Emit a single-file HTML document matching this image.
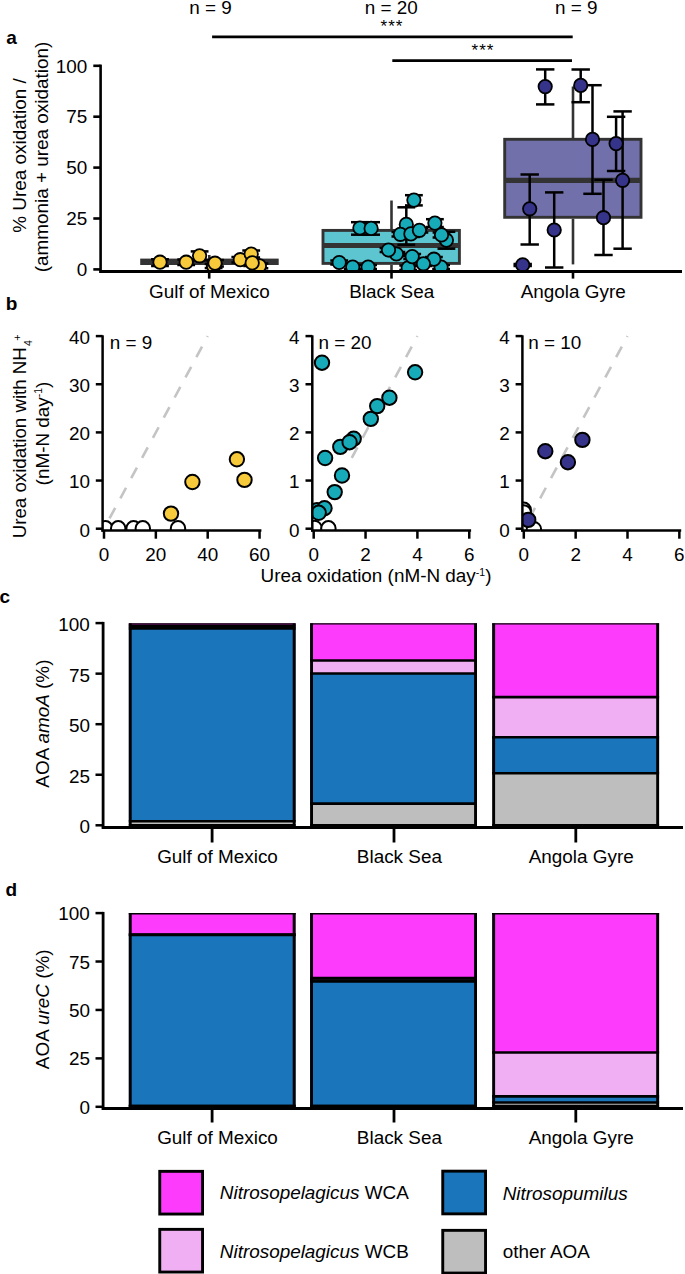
<!DOCTYPE html>
<html><head><meta charset="utf-8"><style>
html,body{margin:0;padding:0;background:#fff;}
svg{display:block;}
text{font-family:"Liberation Sans",sans-serif;fill:#000;}
</style></head><body>
<svg width="685" height="1274" viewBox="0 0 685 1274">
<text x="6.20" y="44.00" text-anchor="start" font-size="19" font-weight="bold">a</text>
<text x="210.50" y="13.90" text-anchor="middle" font-size="18.9" >n = 9</text>
<text x="391.30" y="13.80" text-anchor="middle" font-size="18.9" >n = 20</text>
<text x="576.20" y="13.90" text-anchor="middle" font-size="18.9" >n = 9</text>
<text x="391.90" y="31.70" text-anchor="middle" font-size="17" letter-spacing="0.9">***</text>
<line x1="212.10" y1="36.90" x2="572.70" y2="36.90" stroke="#000" stroke-width="2.8" />
<text x="482.90" y="55.60" text-anchor="middle" font-size="17" letter-spacing="0.9">***</text>
<line x1="392.30" y1="60.60" x2="572.00" y2="60.60" stroke="#000" stroke-width="2.8" />
<line x1="100.60" y1="64.60" x2="100.60" y2="272.90" stroke="#000" stroke-width="2.6" />
<line x1="93.30" y1="269.40" x2="100.60" y2="269.40" stroke="#000" stroke-width="2.6" />
<text x="87.20" y="276.10" text-anchor="end" font-size="18.9" >0</text>
<line x1="93.30" y1="218.50" x2="100.60" y2="218.50" stroke="#000" stroke-width="2.6" />
<text x="87.20" y="225.20" text-anchor="end" font-size="18.9" >25</text>
<line x1="93.30" y1="167.60" x2="100.60" y2="167.60" stroke="#000" stroke-width="2.6" />
<text x="87.20" y="174.30" text-anchor="end" font-size="18.9" >50</text>
<line x1="93.30" y1="116.70" x2="100.60" y2="116.70" stroke="#000" stroke-width="2.6" />
<text x="87.20" y="123.40" text-anchor="end" font-size="18.9" >75</text>
<line x1="93.30" y1="65.80" x2="100.60" y2="65.80" stroke="#000" stroke-width="2.6" />
<text x="87.20" y="72.50" text-anchor="end" font-size="18.9" >100</text>
<text transform="translate(26.3,155.5) rotate(-90)" text-anchor="middle" font-size="18.9">% Urea oxidation /</text>
<text transform="translate(48.2,157) rotate(-90)" text-anchor="middle" font-size="18.9">(ammonia + urea oxidation)</text>
<rect x="140.20" y="258.60" width="138.50" height="6.40" fill="#333333"/>
<line x1="209.30" y1="255.00" x2="209.30" y2="259.00" stroke="#333333" stroke-width="2.6" />
<rect x="323.00" y="230.40" width="136.40" height="33.00" fill="#5cc5cf" stroke="#333333" stroke-width="2.9"/>
<line x1="391.50" y1="200.50" x2="391.50" y2="229.00" stroke="#333333" stroke-width="2.6" />
<line x1="391.50" y1="264.80" x2="391.50" y2="271.00" stroke="#333333" stroke-width="2.6" />
<line x1="323.00" y1="245.60" x2="459.40" y2="245.60" stroke="#333333" stroke-width="5" />
<line x1="573.00" y1="86.50" x2="573.00" y2="138.00" stroke="#333333" stroke-width="2.6" />
<line x1="573.00" y1="218.70" x2="573.00" y2="264.40" stroke="#333333" stroke-width="2.6" />
<rect x="504.70" y="139.30" width="136.30" height="78.00" fill="#7270ab" stroke="#333333" stroke-width="2.9"/>
<line x1="504.70" y1="180.40" x2="641.00" y2="180.40" stroke="#333333" stroke-width="5.1" />
<clipPath id="ca"><rect x="101" y="0" width="584" height="271.5"/></clipPath>
<g clip-path="url(#ca)">
<line x1="160.00" y1="259.30" x2="160.00" y2="265.90" stroke="#000" stroke-width="2.5" />
<line x1="151.10" y1="259.30" x2="168.90" y2="259.30" stroke="#000" stroke-width="2.5" />
<line x1="151.10" y1="265.90" x2="168.90" y2="265.90" stroke="#000" stroke-width="2.5" />
<line x1="186.20" y1="259.50" x2="186.20" y2="265.00" stroke="#000" stroke-width="2.5" />
<line x1="177.30" y1="259.50" x2="195.10" y2="259.50" stroke="#000" stroke-width="2.5" />
<line x1="177.30" y1="265.00" x2="195.10" y2="265.00" stroke="#000" stroke-width="2.5" />
<line x1="199.60" y1="251.40" x2="199.60" y2="260.20" stroke="#000" stroke-width="2.5" />
<line x1="190.70" y1="251.40" x2="208.50" y2="251.40" stroke="#000" stroke-width="2.5" />
<line x1="190.70" y1="260.20" x2="208.50" y2="260.20" stroke="#000" stroke-width="2.5" />
<line x1="213.60" y1="264.00" x2="213.60" y2="268.00" stroke="#000" stroke-width="2.5" />
<line x1="204.70" y1="264.00" x2="222.50" y2="264.00" stroke="#000" stroke-width="2.5" />
<line x1="204.70" y1="268.00" x2="222.50" y2="268.00" stroke="#000" stroke-width="2.5" />
<line x1="215.00" y1="260.00" x2="215.00" y2="266.50" stroke="#000" stroke-width="2.5" />
<line x1="206.10" y1="260.00" x2="223.90" y2="260.00" stroke="#000" stroke-width="2.5" />
<line x1="206.10" y1="266.50" x2="223.90" y2="266.50" stroke="#000" stroke-width="2.5" />
<line x1="240.30" y1="257.00" x2="240.30" y2="262.50" stroke="#000" stroke-width="2.5" />
<line x1="231.40" y1="257.00" x2="249.20" y2="257.00" stroke="#000" stroke-width="2.5" />
<line x1="231.40" y1="262.50" x2="249.20" y2="262.50" stroke="#000" stroke-width="2.5" />
<line x1="251.20" y1="250.50" x2="251.20" y2="257.50" stroke="#000" stroke-width="2.5" />
<line x1="242.30" y1="250.50" x2="260.10" y2="250.50" stroke="#000" stroke-width="2.5" />
<line x1="242.30" y1="257.50" x2="260.10" y2="257.50" stroke="#000" stroke-width="2.5" />
<line x1="259.40" y1="263.50" x2="259.40" y2="268.30" stroke="#000" stroke-width="2.5" />
<line x1="250.50" y1="263.50" x2="268.30" y2="263.50" stroke="#000" stroke-width="2.5" />
<line x1="250.50" y1="268.30" x2="268.30" y2="268.30" stroke="#000" stroke-width="2.5" />
<line x1="252.20" y1="260.00" x2="252.20" y2="266.00" stroke="#000" stroke-width="2.5" />
<line x1="243.30" y1="260.00" x2="261.10" y2="260.00" stroke="#000" stroke-width="2.5" />
<line x1="243.30" y1="266.00" x2="261.10" y2="266.00" stroke="#000" stroke-width="2.5" />
<circle cx="160.00" cy="262.20" r="6.70" fill="#f6ca3a" stroke="#000" stroke-width="1.8"/>
<circle cx="186.20" cy="262.20" r="6.70" fill="#f6ca3a" stroke="#000" stroke-width="1.8"/>
<circle cx="199.60" cy="255.80" r="6.70" fill="#f6ca3a" stroke="#000" stroke-width="1.8"/>
<circle cx="213.60" cy="266.20" r="6.70" fill="#f6ca3a" stroke="#000" stroke-width="1.8"/>
<circle cx="215.00" cy="263.20" r="6.70" fill="#f6ca3a" stroke="#000" stroke-width="1.8"/>
<circle cx="240.30" cy="259.70" r="6.70" fill="#f6ca3a" stroke="#000" stroke-width="1.8"/>
<circle cx="251.20" cy="254.00" r="6.70" fill="#f6ca3a" stroke="#000" stroke-width="1.8"/>
<circle cx="259.40" cy="265.90" r="6.70" fill="#f6ca3a" stroke="#000" stroke-width="1.8"/>
<circle cx="252.20" cy="262.90" r="6.70" fill="#f6ca3a" stroke="#000" stroke-width="1.8"/>
<line x1="359.90" y1="222.20" x2="359.90" y2="234.70" stroke="#000" stroke-width="2.5" />
<line x1="351.00" y1="222.20" x2="368.80" y2="222.20" stroke="#000" stroke-width="2.5" />
<line x1="351.00" y1="234.70" x2="368.80" y2="234.70" stroke="#000" stroke-width="2.5" />
<line x1="371.10" y1="222.20" x2="371.10" y2="234.70" stroke="#000" stroke-width="2.5" />
<line x1="362.20" y1="222.20" x2="380.00" y2="222.20" stroke="#000" stroke-width="2.5" />
<line x1="362.20" y1="234.70" x2="380.00" y2="234.70" stroke="#000" stroke-width="2.5" />
<line x1="339.20" y1="260.50" x2="339.20" y2="264.50" stroke="#000" stroke-width="2.5" />
<line x1="330.30" y1="260.50" x2="348.10" y2="260.50" stroke="#000" stroke-width="2.5" />
<line x1="330.30" y1="264.50" x2="348.10" y2="264.50" stroke="#000" stroke-width="2.5" />
<line x1="352.70" y1="265.00" x2="352.70" y2="269.00" stroke="#000" stroke-width="2.5" />
<line x1="343.80" y1="265.00" x2="361.60" y2="265.00" stroke="#000" stroke-width="2.5" />
<line x1="343.80" y1="269.00" x2="361.60" y2="269.00" stroke="#000" stroke-width="2.5" />
<line x1="368.10" y1="265.00" x2="368.10" y2="269.00" stroke="#000" stroke-width="2.5" />
<line x1="359.20" y1="265.00" x2="377.00" y2="265.00" stroke="#000" stroke-width="2.5" />
<line x1="359.20" y1="269.00" x2="377.00" y2="269.00" stroke="#000" stroke-width="2.5" />
<line x1="413.90" y1="195.20" x2="413.90" y2="205.40" stroke="#000" stroke-width="2.5" />
<line x1="405.00" y1="195.20" x2="422.80" y2="195.20" stroke="#000" stroke-width="2.5" />
<line x1="405.00" y1="205.40" x2="422.80" y2="205.40" stroke="#000" stroke-width="2.5" />
<line x1="406.30" y1="207.30" x2="406.30" y2="244.80" stroke="#000" stroke-width="2.5" />
<line x1="397.40" y1="207.30" x2="415.20" y2="207.30" stroke="#000" stroke-width="2.5" />
<line x1="397.40" y1="244.80" x2="415.20" y2="244.80" stroke="#000" stroke-width="2.5" />
<line x1="400.40" y1="232.00" x2="400.40" y2="236.50" stroke="#000" stroke-width="2.5" />
<line x1="391.50" y1="232.00" x2="409.30" y2="232.00" stroke="#000" stroke-width="2.5" />
<line x1="391.50" y1="236.50" x2="409.30" y2="236.50" stroke="#000" stroke-width="2.5" />
<line x1="410.90" y1="231.00" x2="410.90" y2="237.00" stroke="#000" stroke-width="2.5" />
<line x1="402.00" y1="231.00" x2="419.80" y2="231.00" stroke="#000" stroke-width="2.5" />
<line x1="402.00" y1="237.00" x2="419.80" y2="237.00" stroke="#000" stroke-width="2.5" />
<line x1="419.40" y1="228.00" x2="419.40" y2="232.50" stroke="#000" stroke-width="2.5" />
<line x1="410.50" y1="228.00" x2="428.30" y2="228.00" stroke="#000" stroke-width="2.5" />
<line x1="410.50" y1="232.50" x2="428.30" y2="232.50" stroke="#000" stroke-width="2.5" />
<line x1="434.90" y1="219.20" x2="434.90" y2="227.00" stroke="#000" stroke-width="2.5" />
<line x1="426.00" y1="219.20" x2="443.80" y2="219.20" stroke="#000" stroke-width="2.5" />
<line x1="426.00" y1="227.00" x2="443.80" y2="227.00" stroke="#000" stroke-width="2.5" />
<line x1="446.40" y1="231.80" x2="446.40" y2="248.70" stroke="#000" stroke-width="2.5" />
<line x1="437.50" y1="231.80" x2="455.30" y2="231.80" stroke="#000" stroke-width="2.5" />
<line x1="437.50" y1="248.70" x2="455.30" y2="248.70" stroke="#000" stroke-width="2.5" />
<line x1="441.50" y1="232.50" x2="441.50" y2="237.50" stroke="#000" stroke-width="2.5" />
<line x1="432.60" y1="232.50" x2="450.40" y2="232.50" stroke="#000" stroke-width="2.5" />
<line x1="432.60" y1="237.50" x2="450.40" y2="237.50" stroke="#000" stroke-width="2.5" />
<line x1="396.40" y1="252.00" x2="396.40" y2="256.00" stroke="#000" stroke-width="2.5" />
<line x1="387.50" y1="252.00" x2="405.30" y2="252.00" stroke="#000" stroke-width="2.5" />
<line x1="387.50" y1="256.00" x2="405.30" y2="256.00" stroke="#000" stroke-width="2.5" />
<line x1="388.50" y1="248.00" x2="388.50" y2="252.00" stroke="#000" stroke-width="2.5" />
<line x1="379.60" y1="248.00" x2="397.40" y2="248.00" stroke="#000" stroke-width="2.5" />
<line x1="379.60" y1="252.00" x2="397.40" y2="252.00" stroke="#000" stroke-width="2.5" />
<line x1="408.20" y1="265.50" x2="408.20" y2="270.00" stroke="#000" stroke-width="2.5" />
<line x1="399.30" y1="265.50" x2="417.10" y2="265.50" stroke="#000" stroke-width="2.5" />
<line x1="399.30" y1="270.00" x2="417.10" y2="270.00" stroke="#000" stroke-width="2.5" />
<line x1="412.20" y1="254.00" x2="412.20" y2="259.00" stroke="#000" stroke-width="2.5" />
<line x1="403.30" y1="254.00" x2="421.10" y2="254.00" stroke="#000" stroke-width="2.5" />
<line x1="403.30" y1="259.00" x2="421.10" y2="259.00" stroke="#000" stroke-width="2.5" />
<line x1="441.10" y1="265.00" x2="441.10" y2="269.00" stroke="#000" stroke-width="2.5" />
<line x1="432.20" y1="265.00" x2="450.00" y2="265.00" stroke="#000" stroke-width="2.5" />
<line x1="432.20" y1="269.00" x2="450.00" y2="269.00" stroke="#000" stroke-width="2.5" />
<line x1="433.90" y1="257.00" x2="433.90" y2="261.50" stroke="#000" stroke-width="2.5" />
<line x1="425.00" y1="257.00" x2="442.80" y2="257.00" stroke="#000" stroke-width="2.5" />
<line x1="425.00" y1="261.50" x2="442.80" y2="261.50" stroke="#000" stroke-width="2.5" />
<line x1="423.40" y1="261.50" x2="423.40" y2="266.00" stroke="#000" stroke-width="2.5" />
<line x1="414.50" y1="261.50" x2="432.30" y2="261.50" stroke="#000" stroke-width="2.5" />
<line x1="414.50" y1="266.00" x2="432.30" y2="266.00" stroke="#000" stroke-width="2.5" />
<circle cx="359.90" cy="228.00" r="6.70" fill="#17abba" stroke="#000" stroke-width="1.8"/>
<circle cx="371.10" cy="228.40" r="6.70" fill="#17abba" stroke="#000" stroke-width="1.8"/>
<circle cx="339.20" cy="262.50" r="6.70" fill="#17abba" stroke="#000" stroke-width="1.8"/>
<circle cx="352.70" cy="267.10" r="6.70" fill="#17abba" stroke="#000" stroke-width="1.8"/>
<circle cx="368.10" cy="267.10" r="6.70" fill="#17abba" stroke="#000" stroke-width="1.8"/>
<circle cx="413.90" cy="200.10" r="6.70" fill="#17abba" stroke="#000" stroke-width="1.8"/>
<circle cx="406.30" cy="224.40" r="6.70" fill="#17abba" stroke="#000" stroke-width="1.8"/>
<circle cx="400.40" cy="234.30" r="6.70" fill="#17abba" stroke="#000" stroke-width="1.8"/>
<circle cx="410.90" cy="233.90" r="6.70" fill="#17abba" stroke="#000" stroke-width="1.8"/>
<circle cx="419.40" cy="230.30" r="6.70" fill="#17abba" stroke="#000" stroke-width="1.8"/>
<circle cx="434.90" cy="223.10" r="6.70" fill="#17abba" stroke="#000" stroke-width="1.8"/>
<circle cx="446.40" cy="240.20" r="6.70" fill="#17abba" stroke="#000" stroke-width="1.8"/>
<circle cx="441.50" cy="234.90" r="6.70" fill="#17abba" stroke="#000" stroke-width="1.8"/>
<circle cx="396.40" cy="254.00" r="6.70" fill="#17abba" stroke="#000" stroke-width="1.8"/>
<circle cx="388.50" cy="250.00" r="6.70" fill="#17abba" stroke="#000" stroke-width="1.8"/>
<circle cx="408.20" cy="267.80" r="6.70" fill="#17abba" stroke="#000" stroke-width="1.8"/>
<circle cx="412.20" cy="256.60" r="6.70" fill="#17abba" stroke="#000" stroke-width="1.8"/>
<circle cx="441.10" cy="267.10" r="6.70" fill="#17abba" stroke="#000" stroke-width="1.8"/>
<circle cx="433.90" cy="259.20" r="6.70" fill="#17abba" stroke="#000" stroke-width="1.8"/>
<circle cx="423.40" cy="263.80" r="6.70" fill="#17abba" stroke="#000" stroke-width="1.8"/>
<line x1="545.20" y1="69.40" x2="545.20" y2="104.40" stroke="#000" stroke-width="2.5" />
<line x1="536.00" y1="69.40" x2="554.40" y2="69.40" stroke="#000" stroke-width="2.5" />
<line x1="536.00" y1="104.40" x2="554.40" y2="104.40" stroke="#000" stroke-width="2.5" />
<line x1="580.70" y1="69.50" x2="580.70" y2="102.20" stroke="#000" stroke-width="2.5" />
<line x1="571.50" y1="69.50" x2="589.90" y2="69.50" stroke="#000" stroke-width="2.5" />
<line x1="571.50" y1="102.20" x2="589.90" y2="102.20" stroke="#000" stroke-width="2.5" />
<line x1="592.50" y1="85.20" x2="592.50" y2="193.80" stroke="#000" stroke-width="2.5" />
<line x1="583.30" y1="85.20" x2="601.70" y2="85.20" stroke="#000" stroke-width="2.5" />
<line x1="583.30" y1="193.80" x2="601.70" y2="193.80" stroke="#000" stroke-width="2.5" />
<line x1="616.10" y1="116.80" x2="616.10" y2="171.00" stroke="#000" stroke-width="2.5" />
<line x1="606.90" y1="116.80" x2="625.30" y2="116.80" stroke="#000" stroke-width="2.5" />
<line x1="606.90" y1="171.00" x2="625.30" y2="171.00" stroke="#000" stroke-width="2.5" />
<line x1="622.60" y1="111.40" x2="622.60" y2="248.70" stroke="#000" stroke-width="2.5" />
<line x1="613.40" y1="111.40" x2="631.80" y2="111.40" stroke="#000" stroke-width="2.5" />
<line x1="613.40" y1="248.70" x2="631.80" y2="248.70" stroke="#000" stroke-width="2.5" />
<line x1="603.50" y1="179.80" x2="603.50" y2="255.00" stroke="#000" stroke-width="2.5" />
<line x1="594.30" y1="179.80" x2="612.70" y2="179.80" stroke="#000" stroke-width="2.5" />
<line x1="594.30" y1="255.00" x2="612.70" y2="255.00" stroke="#000" stroke-width="2.5" />
<line x1="529.70" y1="174.50" x2="529.70" y2="244.50" stroke="#000" stroke-width="2.5" />
<line x1="520.50" y1="174.50" x2="538.90" y2="174.50" stroke="#000" stroke-width="2.5" />
<line x1="520.50" y1="244.50" x2="538.90" y2="244.50" stroke="#000" stroke-width="2.5" />
<line x1="554.20" y1="192.40" x2="554.20" y2="267.40" stroke="#000" stroke-width="2.5" />
<line x1="545.00" y1="192.40" x2="563.40" y2="192.40" stroke="#000" stroke-width="2.5" />
<line x1="545.00" y1="267.40" x2="563.40" y2="267.40" stroke="#000" stroke-width="2.5" />
<line x1="522.70" y1="264.00" x2="522.70" y2="266.00" stroke="#000" stroke-width="2.5" />
<line x1="513.50" y1="264.00" x2="531.90" y2="264.00" stroke="#000" stroke-width="2.5" />
<line x1="513.50" y1="266.00" x2="531.90" y2="266.00" stroke="#000" stroke-width="2.5" />
<circle cx="545.20" cy="86.60" r="6.70" fill="#35338a" stroke="#000" stroke-width="1.8"/>
<circle cx="580.70" cy="85.40" r="6.70" fill="#35338a" stroke="#000" stroke-width="1.8"/>
<circle cx="592.50" cy="139.40" r="6.70" fill="#35338a" stroke="#000" stroke-width="1.8"/>
<circle cx="616.10" cy="143.60" r="6.70" fill="#35338a" stroke="#000" stroke-width="1.8"/>
<circle cx="622.60" cy="180.30" r="6.70" fill="#35338a" stroke="#000" stroke-width="1.8"/>
<circle cx="603.50" cy="217.70" r="6.70" fill="#35338a" stroke="#000" stroke-width="1.8"/>
<circle cx="529.70" cy="208.80" r="6.70" fill="#35338a" stroke="#000" stroke-width="1.8"/>
<circle cx="554.20" cy="230.00" r="6.70" fill="#35338a" stroke="#000" stroke-width="1.8"/>
<circle cx="522.70" cy="264.90" r="6.70" fill="#35338a" stroke="#000" stroke-width="1.8"/>
</g>
<line x1="99.30" y1="271.50" x2="682.00" y2="271.50" stroke="#000" stroke-width="2.8" />
<line x1="209.20" y1="271.50" x2="209.20" y2="278.60" stroke="#000" stroke-width="2.6" />
<text x="209.40" y="298.20" text-anchor="middle" font-size="18.9" >Gulf of Mexico</text>
<line x1="391.50" y1="271.50" x2="391.50" y2="278.60" stroke="#000" stroke-width="2.6" />
<text x="391.70" y="298.20" text-anchor="middle" font-size="18.9" >Black Sea</text>
<line x1="573.00" y1="271.50" x2="573.00" y2="278.60" stroke="#000" stroke-width="2.6" />
<text x="573.20" y="298.20" text-anchor="middle" font-size="18.9" >Angola Gyre</text>
<text x="5.80" y="309.60" text-anchor="start" font-size="19" font-weight="bold">b</text>
<text transform="translate(25.8,538.3) rotate(-90)" text-anchor="start" font-size="18.7">Urea oxidation with NH<tspan font-size="10.5" dy="6" dx="1.2">4</tspan><tspan font-size="11" dy="-11.2" dx="-0.6">+</tspan></text>
<text transform="translate(48.5,433.5) rotate(-90)" text-anchor="middle" font-size="18.9">(nM-N day<tspan font-size="10.5" dy="-6.1">-1</tspan><tspan dy="6.1">)</tspan></text>
<text x="376.00" y="581.60" text-anchor="middle" font-size="18.9" >Urea oxidation (nM-N day<tspan font-size="10.5" dy="-6.1">-1</tspan><tspan dy="6.1">)</tspan></text>
<line x1="207.70" y1="336.10" x2="104.00" y2="528.70" stroke="#c4c4c4" stroke-width="2.6" stroke-dasharray="12 10.9" stroke-dashoffset="10.97"/>
<clipPath id="cb0"><rect x="102.60" y="300" width="170" height="230.40"/></clipPath>
<g clip-path="url(#cb0)">
<circle cx="105.40" cy="528.30" r="7.20" fill="#fff" stroke="#000" stroke-width="2.0"/>
<circle cx="118.20" cy="528.30" r="7.20" fill="#fff" stroke="#000" stroke-width="2.0"/>
<circle cx="133.60" cy="528.30" r="7.20" fill="#fff" stroke="#000" stroke-width="2.0"/>
<circle cx="142.80" cy="528.30" r="7.20" fill="#fff" stroke="#000" stroke-width="2.0"/>
<circle cx="178.00" cy="528.30" r="7.20" fill="#fff" stroke="#000" stroke-width="2.0"/>
<circle cx="171.00" cy="513.60" r="7.20" fill="#f6ca3a" stroke="#000" stroke-width="2.0"/>
<circle cx="192.40" cy="482.00" r="7.20" fill="#f6ca3a" stroke="#000" stroke-width="2.0"/>
<circle cx="236.90" cy="459.30" r="7.20" fill="#f6ca3a" stroke="#000" stroke-width="2.0"/>
<circle cx="244.50" cy="479.90" r="7.20" fill="#f6ca3a" stroke="#000" stroke-width="2.0"/>
</g>
<line x1="102.60" y1="335.30" x2="102.60" y2="531.70" stroke="#000" stroke-width="2.5" />
<line x1="101.40" y1="530.40" x2="261.40" y2="530.40" stroke="#000" stroke-width="2.5" />
<line x1="95.80" y1="528.70" x2="102.60" y2="528.70" stroke="#000" stroke-width="2.5" />
<text x="89.90" y="536.60" text-anchor="end" font-size="18.9" >0</text>
<line x1="95.80" y1="480.55" x2="102.60" y2="480.55" stroke="#000" stroke-width="2.5" />
<text x="89.90" y="488.45" text-anchor="end" font-size="18.9" >10</text>
<line x1="95.80" y1="432.40" x2="102.60" y2="432.40" stroke="#000" stroke-width="2.5" />
<text x="89.90" y="440.30" text-anchor="end" font-size="18.9" >20</text>
<line x1="95.80" y1="384.25" x2="102.60" y2="384.25" stroke="#000" stroke-width="2.5" />
<text x="89.90" y="392.15" text-anchor="end" font-size="18.9" >30</text>
<line x1="95.80" y1="336.10" x2="102.60" y2="336.10" stroke="#000" stroke-width="2.5" />
<text x="89.90" y="344.00" text-anchor="end" font-size="18.9" >40</text>
<line x1="104.00" y1="530.40" x2="104.00" y2="538.70" stroke="#000" stroke-width="2.5" />
<text x="104.00" y="560.50" text-anchor="middle" font-size="18.9" >0</text>
<line x1="155.85" y1="530.40" x2="155.85" y2="538.70" stroke="#000" stroke-width="2.5" />
<text x="155.85" y="560.50" text-anchor="middle" font-size="18.9" >20</text>
<line x1="207.70" y1="530.40" x2="207.70" y2="538.70" stroke="#000" stroke-width="2.5" />
<text x="207.70" y="560.50" text-anchor="middle" font-size="18.9" >40</text>
<line x1="259.55" y1="530.40" x2="259.55" y2="538.70" stroke="#000" stroke-width="2.5" />
<text x="259.55" y="560.50" text-anchor="middle" font-size="18.9" >60</text>
<text x="109.80" y="348.90" text-anchor="start" font-size="18.9" >n = 9</text>
<line x1="417.40" y1="336.10" x2="351.29" y2="458.88" stroke="#c4c4c4" stroke-width="2.6" stroke-dasharray="12 10.9" stroke-dashoffset="10.97"/>
<clipPath id="cb1"><rect x="312.30" y="300" width="170" height="230.40"/></clipPath>
<g clip-path="url(#cb1)">
<circle cx="314.50" cy="528.00" r="7.20" fill="#fff" stroke="#000" stroke-width="2.0"/>
<circle cx="328.40" cy="528.30" r="7.20" fill="#fff" stroke="#000" stroke-width="2.0"/>
<circle cx="370.80" cy="418.90" r="7.20" fill="#17abba" stroke="#000" stroke-width="2.0"/>
<circle cx="322.00" cy="362.70" r="7.20" fill="#17abba" stroke="#000" stroke-width="2.0"/>
<circle cx="325.10" cy="458.00" r="7.20" fill="#17abba" stroke="#000" stroke-width="2.0"/>
<circle cx="340.30" cy="446.90" r="7.20" fill="#17abba" stroke="#000" stroke-width="2.0"/>
<circle cx="353.70" cy="438.70" r="7.20" fill="#17abba" stroke="#000" stroke-width="2.0"/>
<circle cx="349.60" cy="442.20" r="7.20" fill="#17abba" stroke="#000" stroke-width="2.0"/>
<circle cx="342.00" cy="475.50" r="7.20" fill="#17abba" stroke="#000" stroke-width="2.0"/>
<circle cx="334.70" cy="492.10" r="7.20" fill="#17abba" stroke="#000" stroke-width="2.0"/>
<circle cx="316.90" cy="510.20" r="7.20" fill="#17abba" stroke="#000" stroke-width="2.0"/>
<circle cx="324.50" cy="508.20" r="7.20" fill="#17abba" stroke="#000" stroke-width="2.0"/>
<circle cx="318.70" cy="512.80" r="7.20" fill="#17abba" stroke="#000" stroke-width="2.0"/>
<circle cx="377.20" cy="406.10" r="7.20" fill="#17abba" stroke="#000" stroke-width="2.0"/>
<circle cx="389.40" cy="397.70" r="7.20" fill="#17abba" stroke="#000" stroke-width="2.0"/>
<circle cx="415.10" cy="372.30" r="7.20" fill="#17abba" stroke="#000" stroke-width="2.0"/>
</g>
<line x1="312.30" y1="335.30" x2="312.30" y2="531.70" stroke="#000" stroke-width="2.5" />
<line x1="311.10" y1="530.40" x2="471.10" y2="530.40" stroke="#000" stroke-width="2.5" />
<line x1="305.50" y1="528.70" x2="312.30" y2="528.70" stroke="#000" stroke-width="2.5" />
<text x="299.60" y="536.60" text-anchor="end" font-size="18.9" >0</text>
<line x1="305.50" y1="480.55" x2="312.30" y2="480.55" stroke="#000" stroke-width="2.5" />
<text x="299.60" y="488.45" text-anchor="end" font-size="18.9" >1</text>
<line x1="305.50" y1="432.40" x2="312.30" y2="432.40" stroke="#000" stroke-width="2.5" />
<text x="299.60" y="440.30" text-anchor="end" font-size="18.9" >2</text>
<line x1="305.50" y1="384.25" x2="312.30" y2="384.25" stroke="#000" stroke-width="2.5" />
<text x="299.60" y="392.15" text-anchor="end" font-size="18.9" >3</text>
<line x1="305.50" y1="336.10" x2="312.30" y2="336.10" stroke="#000" stroke-width="2.5" />
<text x="299.60" y="344.00" text-anchor="end" font-size="18.9" >4</text>
<line x1="313.70" y1="530.40" x2="313.70" y2="538.70" stroke="#000" stroke-width="2.5" />
<text x="313.70" y="560.50" text-anchor="middle" font-size="18.9" >0</text>
<line x1="365.55" y1="530.40" x2="365.55" y2="538.70" stroke="#000" stroke-width="2.5" />
<text x="365.55" y="560.50" text-anchor="middle" font-size="18.9" >2</text>
<line x1="417.40" y1="530.40" x2="417.40" y2="538.70" stroke="#000" stroke-width="2.5" />
<text x="417.40" y="560.50" text-anchor="middle" font-size="18.9" >4</text>
<line x1="469.25" y1="530.40" x2="469.25" y2="538.70" stroke="#000" stroke-width="2.5" />
<text x="469.25" y="560.50" text-anchor="middle" font-size="18.9" >6</text>
<text x="318.50" y="348.90" text-anchor="start" font-size="18.9" >n = 20</text>
<line x1="627.50" y1="336.10" x2="523.80" y2="528.70" stroke="#c4c4c4" stroke-width="2.6" stroke-dasharray="12 10.9" stroke-dashoffset="10.97"/>
<clipPath id="cb2"><rect x="522.40" y="300" width="170" height="230.40"/></clipPath>
<g clip-path="url(#cb2)">
<circle cx="523.70" cy="509.80" r="7.20" fill="#fff" stroke="#000" stroke-width="2.0"/>
<circle cx="523.70" cy="512.40" r="7.20" fill="#fff" stroke="#000" stroke-width="2.0"/>
<circle cx="533.90" cy="529.20" r="7.20" fill="#fff" stroke="#000" stroke-width="2.0"/>
<circle cx="545.30" cy="451.20" r="7.20" fill="#35338a" stroke="#000" stroke-width="2.0"/>
<circle cx="567.90" cy="462.20" r="7.20" fill="#35338a" stroke="#000" stroke-width="2.0"/>
<circle cx="582.40" cy="439.90" r="7.20" fill="#35338a" stroke="#000" stroke-width="2.0"/>
<circle cx="528.20" cy="519.90" r="7.20" fill="#35338a" stroke="#000" stroke-width="2.0"/>
</g>
<line x1="522.40" y1="335.30" x2="522.40" y2="531.70" stroke="#000" stroke-width="2.5" />
<line x1="521.20" y1="530.40" x2="681.20" y2="530.40" stroke="#000" stroke-width="2.5" />
<line x1="515.60" y1="528.70" x2="522.40" y2="528.70" stroke="#000" stroke-width="2.5" />
<text x="509.70" y="536.60" text-anchor="end" font-size="18.9" >0</text>
<line x1="515.60" y1="480.55" x2="522.40" y2="480.55" stroke="#000" stroke-width="2.5" />
<text x="509.70" y="488.45" text-anchor="end" font-size="18.9" >1</text>
<line x1="515.60" y1="432.40" x2="522.40" y2="432.40" stroke="#000" stroke-width="2.5" />
<text x="509.70" y="440.30" text-anchor="end" font-size="18.9" >2</text>
<line x1="515.60" y1="384.25" x2="522.40" y2="384.25" stroke="#000" stroke-width="2.5" />
<text x="509.70" y="392.15" text-anchor="end" font-size="18.9" >3</text>
<line x1="515.60" y1="336.10" x2="522.40" y2="336.10" stroke="#000" stroke-width="2.5" />
<text x="509.70" y="344.00" text-anchor="end" font-size="18.9" >4</text>
<line x1="523.80" y1="530.40" x2="523.80" y2="538.70" stroke="#000" stroke-width="2.5" />
<text x="523.80" y="560.50" text-anchor="middle" font-size="18.9" >0</text>
<line x1="575.65" y1="530.40" x2="575.65" y2="538.70" stroke="#000" stroke-width="2.5" />
<text x="575.65" y="560.50" text-anchor="middle" font-size="18.9" >2</text>
<line x1="627.50" y1="530.40" x2="627.50" y2="538.70" stroke="#000" stroke-width="2.5" />
<text x="627.50" y="560.50" text-anchor="middle" font-size="18.9" >4</text>
<line x1="679.35" y1="530.40" x2="679.35" y2="538.70" stroke="#000" stroke-width="2.5" />
<text x="679.35" y="560.50" text-anchor="middle" font-size="18.9" >6</text>
<text x="528.30" y="348.90" text-anchor="start" font-size="18.9" >n = 10</text>
<text x="-0.60" y="603.00" text-anchor="start" font-size="19" font-weight="bold">c</text>
<clipPath id="cc"><rect x="0" y="623.20" width="685" height="204.30"/></clipPath>
<g clip-path="url(#cc)">
<rect x="128.80" y="623.20" width="166.80" height="2.70" fill="#fc3bfc"/>
<rect x="128.80" y="625.90" width="166.80" height="2.50" fill="#f0aef3"/>
<rect x="128.80" y="628.40" width="166.80" height="192.80" fill="#1b75ba"/>
<rect x="128.80" y="821.20" width="166.80" height="4.00" fill="#bebebe"/>
<line x1="128.80" y1="623.20" x2="295.60" y2="623.20" stroke="#000" stroke-width="2.6" />
<line x1="128.80" y1="625.90" x2="295.60" y2="625.90" stroke="#000" stroke-width="2.6" />
<line x1="128.80" y1="628.40" x2="295.60" y2="628.40" stroke="#000" stroke-width="2.6" />
<line x1="128.80" y1="821.20" x2="295.60" y2="821.20" stroke="#000" stroke-width="2.6" />
<line x1="128.80" y1="825.20" x2="295.60" y2="825.20" stroke="#000" stroke-width="2.6" />
<line x1="130.25" y1="623.20" x2="130.25" y2="826.50" stroke="#000" stroke-width="2.9" />
<line x1="294.15" y1="623.20" x2="294.15" y2="826.50" stroke="#000" stroke-width="2.9" />
<rect x="310.10" y="623.20" width="166.90" height="37.30" fill="#fc3bfc"/>
<rect x="310.10" y="660.50" width="166.90" height="13.00" fill="#f0aef3"/>
<rect x="310.10" y="673.50" width="166.90" height="130.10" fill="#1b75ba"/>
<rect x="310.10" y="803.60" width="166.90" height="21.60" fill="#bebebe"/>
<line x1="310.10" y1="623.20" x2="477.00" y2="623.20" stroke="#000" stroke-width="2.6" />
<line x1="310.10" y1="660.50" x2="477.00" y2="660.50" stroke="#000" stroke-width="2.6" />
<line x1="310.10" y1="673.50" x2="477.00" y2="673.50" stroke="#000" stroke-width="2.6" />
<line x1="310.10" y1="803.60" x2="477.00" y2="803.60" stroke="#000" stroke-width="2.6" />
<line x1="310.10" y1="825.20" x2="477.00" y2="825.20" stroke="#000" stroke-width="2.6" />
<line x1="311.55" y1="623.20" x2="311.55" y2="826.50" stroke="#000" stroke-width="2.9" />
<line x1="475.55" y1="623.20" x2="475.55" y2="826.50" stroke="#000" stroke-width="2.9" />
<rect x="492.20" y="623.20" width="166.90" height="73.90" fill="#fc3bfc"/>
<rect x="492.20" y="697.10" width="166.90" height="40.20" fill="#f0aef3"/>
<rect x="492.20" y="737.30" width="166.90" height="36.00" fill="#1b75ba"/>
<rect x="492.20" y="773.30" width="166.90" height="51.90" fill="#bebebe"/>
<line x1="492.20" y1="623.20" x2="659.10" y2="623.20" stroke="#000" stroke-width="2.6" />
<line x1="492.20" y1="697.10" x2="659.10" y2="697.10" stroke="#000" stroke-width="2.6" />
<line x1="492.20" y1="737.30" x2="659.10" y2="737.30" stroke="#000" stroke-width="2.6" />
<line x1="492.20" y1="773.30" x2="659.10" y2="773.30" stroke="#000" stroke-width="2.6" />
<line x1="492.20" y1="825.20" x2="659.10" y2="825.20" stroke="#000" stroke-width="2.6" />
<line x1="493.65" y1="623.20" x2="493.65" y2="826.50" stroke="#000" stroke-width="2.9" />
<line x1="657.65" y1="623.20" x2="657.65" y2="826.50" stroke="#000" stroke-width="2.9" />
</g>
<line x1="103.10" y1="621.90" x2="103.10" y2="828.70" stroke="#000" stroke-width="2.8" />
<line x1="95.50" y1="825.30" x2="103.00" y2="825.30" stroke="#000" stroke-width="2.5" />
<text x="89.90" y="833.30" text-anchor="end" font-size="18.9" >0</text>
<line x1="95.50" y1="774.75" x2="103.00" y2="774.75" stroke="#000" stroke-width="2.5" />
<text x="89.90" y="782.75" text-anchor="end" font-size="18.9" >25</text>
<line x1="95.50" y1="724.20" x2="103.00" y2="724.20" stroke="#000" stroke-width="2.5" />
<text x="89.90" y="732.20" text-anchor="end" font-size="18.9" >50</text>
<line x1="95.50" y1="673.65" x2="103.00" y2="673.65" stroke="#000" stroke-width="2.5" />
<text x="89.90" y="681.65" text-anchor="end" font-size="18.9" >75</text>
<line x1="95.50" y1="623.10" x2="103.00" y2="623.10" stroke="#000" stroke-width="2.5" />
<text x="89.90" y="631.10" text-anchor="end" font-size="18.9" >100</text>
<line x1="101.80" y1="827.40" x2="683.00" y2="827.40" stroke="#000" stroke-width="3.0" />
<line x1="212.10" y1="827.40" x2="212.10" y2="842.50" stroke="#000" stroke-width="2.8" />
<text x="217.50" y="862.50" text-anchor="middle" font-size="18.9" >Gulf of Mexico</text>
<line x1="394.00" y1="827.40" x2="394.00" y2="842.50" stroke="#000" stroke-width="2.8" />
<text x="399.40" y="862.50" text-anchor="middle" font-size="18.9" >Black Sea</text>
<line x1="575.80" y1="827.40" x2="575.80" y2="842.50" stroke="#000" stroke-width="2.8" />
<text x="581.20" y="862.50" text-anchor="middle" font-size="18.9" >Angola Gyre</text>
<text transform="translate(48.9,723.6) rotate(-90)" text-anchor="middle" font-size="18.9">AOA <tspan font-style="italic">amoA</tspan> (%)</text>
<text x="5.60" y="895.60" text-anchor="start" font-size="19" font-weight="bold">d</text>
<clipPath id="cd"><rect x="0" y="913.10" width="685" height="195.40"/></clipPath>
<g clip-path="url(#cd)">
<rect x="128.80" y="913.10" width="166.80" height="21.40" fill="#fc3bfc"/>
<rect x="128.80" y="934.50" width="166.80" height="0.40" fill="#f0aef3"/>
<rect x="128.80" y="934.90" width="166.80" height="171.10" fill="#1b75ba"/>
<rect x="128.80" y="1106.00" width="166.80" height="0.10" fill="#bebebe"/>
<line x1="128.80" y1="913.10" x2="295.60" y2="913.10" stroke="#000" stroke-width="2.6" />
<line x1="128.80" y1="934.50" x2="295.60" y2="934.50" stroke="#000" stroke-width="2.6" />
<line x1="128.80" y1="934.90" x2="295.60" y2="934.90" stroke="#000" stroke-width="2.6" />
<line x1="128.80" y1="1106.00" x2="295.60" y2="1106.00" stroke="#000" stroke-width="2.6" />
<line x1="128.80" y1="1106.10" x2="295.60" y2="1106.10" stroke="#000" stroke-width="2.6" />
<line x1="130.25" y1="913.10" x2="130.25" y2="1107.40" stroke="#000" stroke-width="2.9" />
<line x1="294.15" y1="913.10" x2="294.15" y2="1107.40" stroke="#000" stroke-width="2.9" />
<rect x="310.10" y="913.10" width="166.90" height="64.90" fill="#fc3bfc"/>
<rect x="310.10" y="978.00" width="166.90" height="3.50" fill="#111"/>
<rect x="310.10" y="981.50" width="166.90" height="124.50" fill="#1b75ba"/>
<rect x="310.10" y="1106.00" width="166.90" height="0.10" fill="#bebebe"/>
<line x1="310.10" y1="913.10" x2="477.00" y2="913.10" stroke="#000" stroke-width="2.6" />
<line x1="310.10" y1="978.00" x2="477.00" y2="978.00" stroke="#000" stroke-width="2.6" />
<line x1="310.10" y1="981.50" x2="477.00" y2="981.50" stroke="#000" stroke-width="2.6" />
<line x1="310.10" y1="1106.00" x2="477.00" y2="1106.00" stroke="#000" stroke-width="2.6" />
<line x1="310.10" y1="1106.10" x2="477.00" y2="1106.10" stroke="#000" stroke-width="2.6" />
<line x1="311.55" y1="913.10" x2="311.55" y2="1107.40" stroke="#000" stroke-width="2.9" />
<line x1="475.55" y1="913.10" x2="475.55" y2="1107.40" stroke="#000" stroke-width="2.9" />
<rect x="492.20" y="913.10" width="166.90" height="139.40" fill="#fc3bfc"/>
<rect x="492.20" y="1052.50" width="166.90" height="43.90" fill="#f0aef3"/>
<rect x="492.20" y="1096.40" width="166.90" height="6.10" fill="#1b75ba"/>
<rect x="492.20" y="1102.50" width="166.90" height="3.60" fill="#bebebe"/>
<line x1="492.20" y1="913.10" x2="659.10" y2="913.10" stroke="#000" stroke-width="2.6" />
<line x1="492.20" y1="1052.50" x2="659.10" y2="1052.50" stroke="#000" stroke-width="2.6" />
<line x1="492.20" y1="1096.40" x2="659.10" y2="1096.40" stroke="#000" stroke-width="2.6" />
<line x1="492.20" y1="1102.50" x2="659.10" y2="1102.50" stroke="#000" stroke-width="2.6" />
<line x1="492.20" y1="1106.10" x2="659.10" y2="1106.10" stroke="#000" stroke-width="2.6" />
<line x1="493.65" y1="913.10" x2="493.65" y2="1107.40" stroke="#000" stroke-width="2.9" />
<line x1="657.65" y1="913.10" x2="657.65" y2="1107.40" stroke="#000" stroke-width="2.9" />
</g>
<line x1="103.10" y1="911.90" x2="103.10" y2="1109.90" stroke="#000" stroke-width="2.8" />
<line x1="95.50" y1="1106.80" x2="103.00" y2="1106.80" stroke="#000" stroke-width="2.5" />
<text x="89.90" y="1113.90" text-anchor="end" font-size="18.9" >0</text>
<line x1="95.50" y1="1058.38" x2="103.00" y2="1058.38" stroke="#000" stroke-width="2.5" />
<text x="89.90" y="1065.47" text-anchor="end" font-size="18.9" >25</text>
<line x1="95.50" y1="1009.95" x2="103.00" y2="1009.95" stroke="#000" stroke-width="2.5" />
<text x="89.90" y="1017.05" text-anchor="end" font-size="18.9" >50</text>
<line x1="95.50" y1="961.52" x2="103.00" y2="961.52" stroke="#000" stroke-width="2.5" />
<text x="89.90" y="968.62" text-anchor="end" font-size="18.9" >75</text>
<line x1="95.50" y1="913.10" x2="103.00" y2="913.10" stroke="#000" stroke-width="2.5" />
<text x="89.90" y="920.20" text-anchor="end" font-size="18.9" >100</text>
<line x1="101.80" y1="1108.60" x2="683.00" y2="1108.60" stroke="#000" stroke-width="3.0" />
<line x1="212.10" y1="1108.60" x2="212.10" y2="1122.50" stroke="#000" stroke-width="2.8" />
<text x="217.50" y="1144.00" text-anchor="middle" font-size="18.9" >Gulf of Mexico</text>
<line x1="394.00" y1="1108.60" x2="394.00" y2="1122.50" stroke="#000" stroke-width="2.8" />
<text x="399.40" y="1144.00" text-anchor="middle" font-size="18.9" >Black Sea</text>
<line x1="575.80" y1="1108.60" x2="575.80" y2="1122.50" stroke="#000" stroke-width="2.8" />
<text x="581.20" y="1144.00" text-anchor="middle" font-size="18.9" >Angola Gyre</text>
<text transform="translate(48.9,1009.3) rotate(-90)" text-anchor="middle" font-size="18.9">AOA <tspan font-style="italic">ureC</tspan> (%)</text>
<rect x="159.75" y="1171.35" width="42.80" height="42.70" fill="#fc3bfc" stroke="#000" stroke-width="2.9"/>
<rect x="159.75" y="1229.35" width="42.80" height="42.70" fill="#f0aef3" stroke="#000" stroke-width="2.9"/>
<rect x="442.75" y="1171.15" width="42.80" height="42.70" fill="#1b75ba" stroke="#000" stroke-width="2.9"/>
<rect x="442.75" y="1230.35" width="42.80" height="42.70" fill="#bebebe" stroke="#000" stroke-width="2.9"/>
<text x="219.80" y="1199.30" text-anchor="start" font-size="18.9" ><tspan font-style="italic">Nitrosopelagicus</tspan> WCA</text>
<text x="219.80" y="1257.50" text-anchor="start" font-size="18.9" ><tspan font-style="italic">Nitrosopelagicus</tspan> WCB</text>
<text x="502.70" y="1199.60" text-anchor="start" font-size="18.9" ><tspan font-style="italic">Nitrosopumilus</tspan></text>
<text x="502.70" y="1258.00" text-anchor="start" font-size="18.9" >other AOA</text>
</svg>
</body></html>
